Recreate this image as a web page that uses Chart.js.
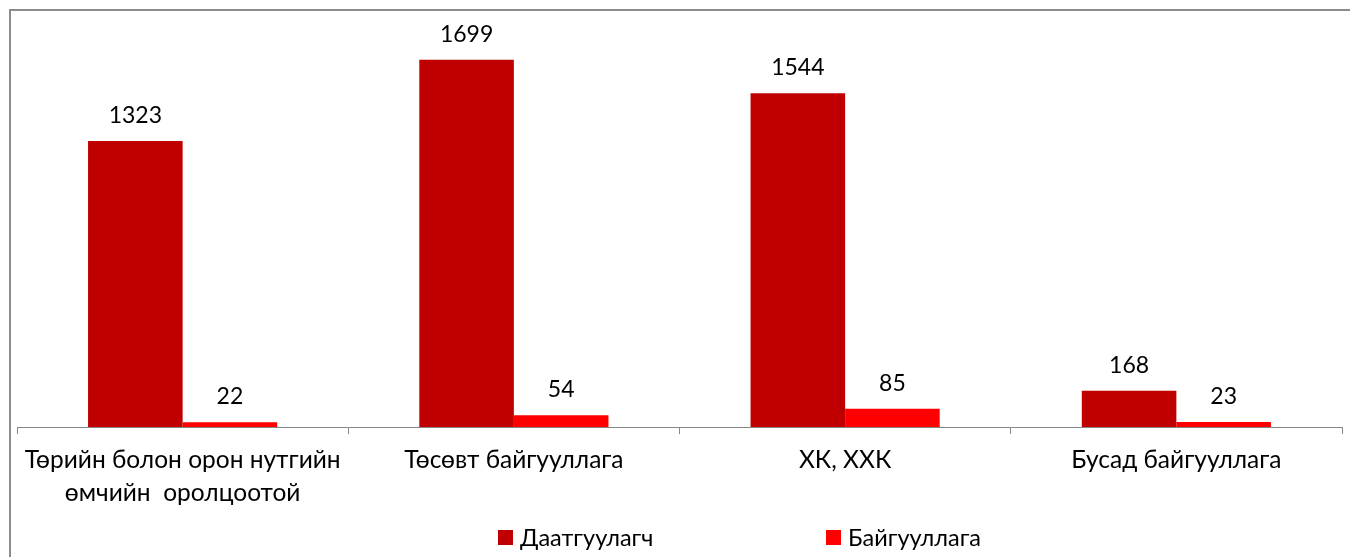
<!DOCTYPE html>
<html><head><meta charset="utf-8">
<script src="https://cdn.jsdelivr.net/npm/chart.js@4"></script>
<style>html,body{margin:0;padding:0;background:#fff;} canvas{display:block;}</style>
</head><body>
<canvas id="c" width="1350" height="557"></canvas>
<script>
const categories = [["Төрийн болон орон нутгийн", "өмчийн  оролцоотой"], "Төсөвт байгууллага", "ХК, ХХК", "Бусад байгууллага"];
const seriesNames = ["Даатгуулагч", "Байгууллага"];
const insuredValues = [1323, 1699, 1544, 168];
const orgValues = [22, 54, 85, 23];
const seriesColors = ["#C00000", "#FF0000"];
const yMin = 0, yMax = 1800;

const FONT = "Lato, 'Open Sans', sans-serif";
const VSIZE = 23;
const CSIZE = 24.5;
const LSIZE = 23.5;

const bgBorder = {
  id: 'bgBorder',
  beforeDraw(chart) {
    const c = chart.ctx;
    c.save();
    c.fillStyle = '#fff';
    c.fillRect(0, 0, chart.width, chart.height);
    c.strokeStyle = '#8c8c8c';
    c.lineWidth = 2;
    c.beginPath();
    c.moveTo(10, chart.height + 2);
    c.lineTo(10, 10);
    c.lineTo(chart.width + 2, 10);
    c.stroke();
    c.restore();
  }
};

const valueLabels = {
  id: 'valueLabels',
  afterDatasetsDraw(chart) {
    const c = chart.ctx;
    c.save();
    c.font = VSIZE + 'px ' + FONT;
    c.fillStyle = '#000';
    c.textAlign = 'center';
    c.textBaseline = 'alphabetic';
    chart.data.datasets.forEach((ds, di) => {
      chart.getDatasetMeta(di).data.forEach((el, i) => {
        c.fillText(String(ds.data[i]), el.x, el.y - 18);
      });
    });
    c.restore();
  }
};

const customLegend = {
  id: 'customLegend',
  afterDraw(chart) {
    const c = chart.ctx;
    const starts = [498, 826];
    c.save();
    c.font = LSIZE + 'px ' + FONT;
    c.textBaseline = 'middle';
    c.textAlign = 'left';
    chart.data.datasets.forEach((ds, i) => {
      const x = starts[i];
      c.fillStyle = ds.backgroundColor;
      c.fillRect(x, 530, 15, 15);
      c.fillStyle = '#000';
      c.fillText(ds.label, x + 22, 538);
    });
    c.restore();
  }
};

new Chart(document.getElementById('c'), {
  type: 'bar',
  data: {
    labels: categories,
    datasets: [
      { label: seriesNames[0], data: insuredValues, backgroundColor: seriesColors[0], borderWidth: 0 },
      { label: seriesNames[1], data: orgValues, backgroundColor: seriesColors[1], borderWidth: 0 }
    ]
  },
  options: {
    responsive: false,
    animation: false,
    devicePixelRatio: 1,
    layout: { padding: { left: 17, right: 8, top: 38, bottom: 0 } },
    datasets: { bar: { categoryPercentage: 0.571, barPercentage: 1.0 } },
    plugins: { legend: { display: false }, tooltip: { enabled: false } },
    scales: {
      y: { display: false, min: yMin, max: yMax },
      x: {
        offset: true,
        grid: { display: true, offset: true, drawOnChartArea: false, drawTicks: true, tickLength: 7, color: '#868686', lineWidth: 1 },
        border: { display: true, color: '#868686', width: 1 },
        ticks: { font: { family: FONT, size: CSIZE, lineHeight: 1.36 }, color: '#000', padding: 9, maxRotation: 0, autoSkip: false },
        afterFit(s) { s.height = 130; }
      }
    }
  },
  plugins: [bgBorder, valueLabels, customLegend]
});
</script>
</body></html>
